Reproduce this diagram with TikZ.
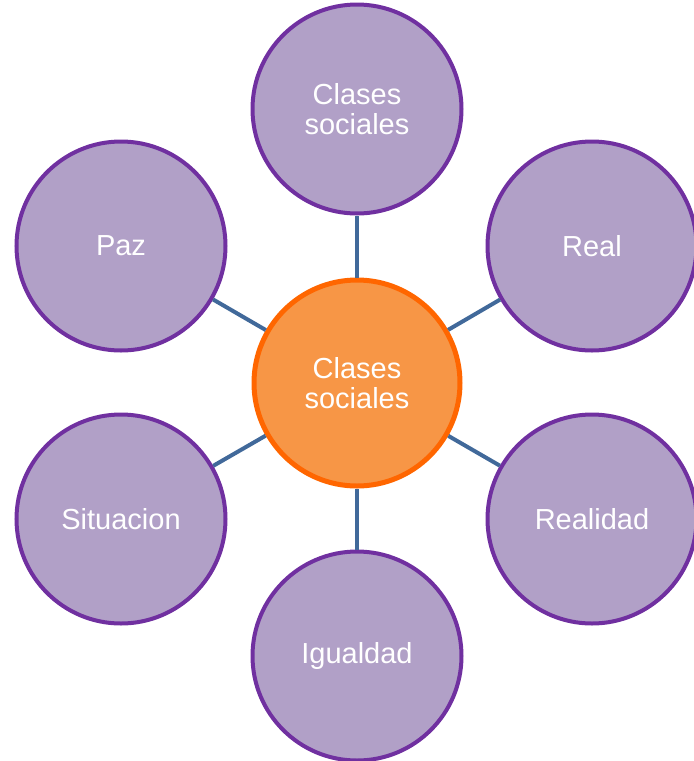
\documentclass[tikz,border=0pt]{standalone}
\usepackage{fontspec}
\setmainfont{Liberation Sans}
\definecolor{pfill}{HTML}{B1A0C7}
\definecolor{pdraw}{HTML}{7030A0}
\definecolor{ofill}{HTML}{F79646}
\definecolor{odraw}{HTML}{FF6600}
\definecolor{link}{HTML}{41699A}
\begin{document}
\begin{tikzpicture}[x=1pt,y=1pt,
  outer/.style={circle,fill=pfill,draw=pdraw,line width=4pt,minimum size=209pt,inner sep=0pt,
    text=white,font=\fontsize{29}{30}\selectfont,align=center},
  hub/.style={circle,fill=ofill,draw=odraw,line width=5pt,minimum size=206pt,inner sep=0pt,
    text=white,font=\fontsize{29}{30}\selectfont,align=center},
  conn/.style={draw=link,line width=4pt}]
\useasboundingbox (0,0) rectangle (694,-761);
\node[hub] (c) at (357,-383) {Clases\\sociales};
\node[outer] (t) at (357,-109) {Clases\\sociales};
\node[outer] (p) at (121,-246) {Paz};
\node[outer] (r) at (592,-246) {Real};
\node[outer] (s) at (121,-519) {Situacion};
\node[outer] (rd) at (592,-519) {Realidad};
\node[outer] (i) at (357,-656) {Igualdad};
\foreach \n in {t,p,r,s,rd,i} \draw[conn] (c) -- (\n);
\end{tikzpicture}
\end{document}
